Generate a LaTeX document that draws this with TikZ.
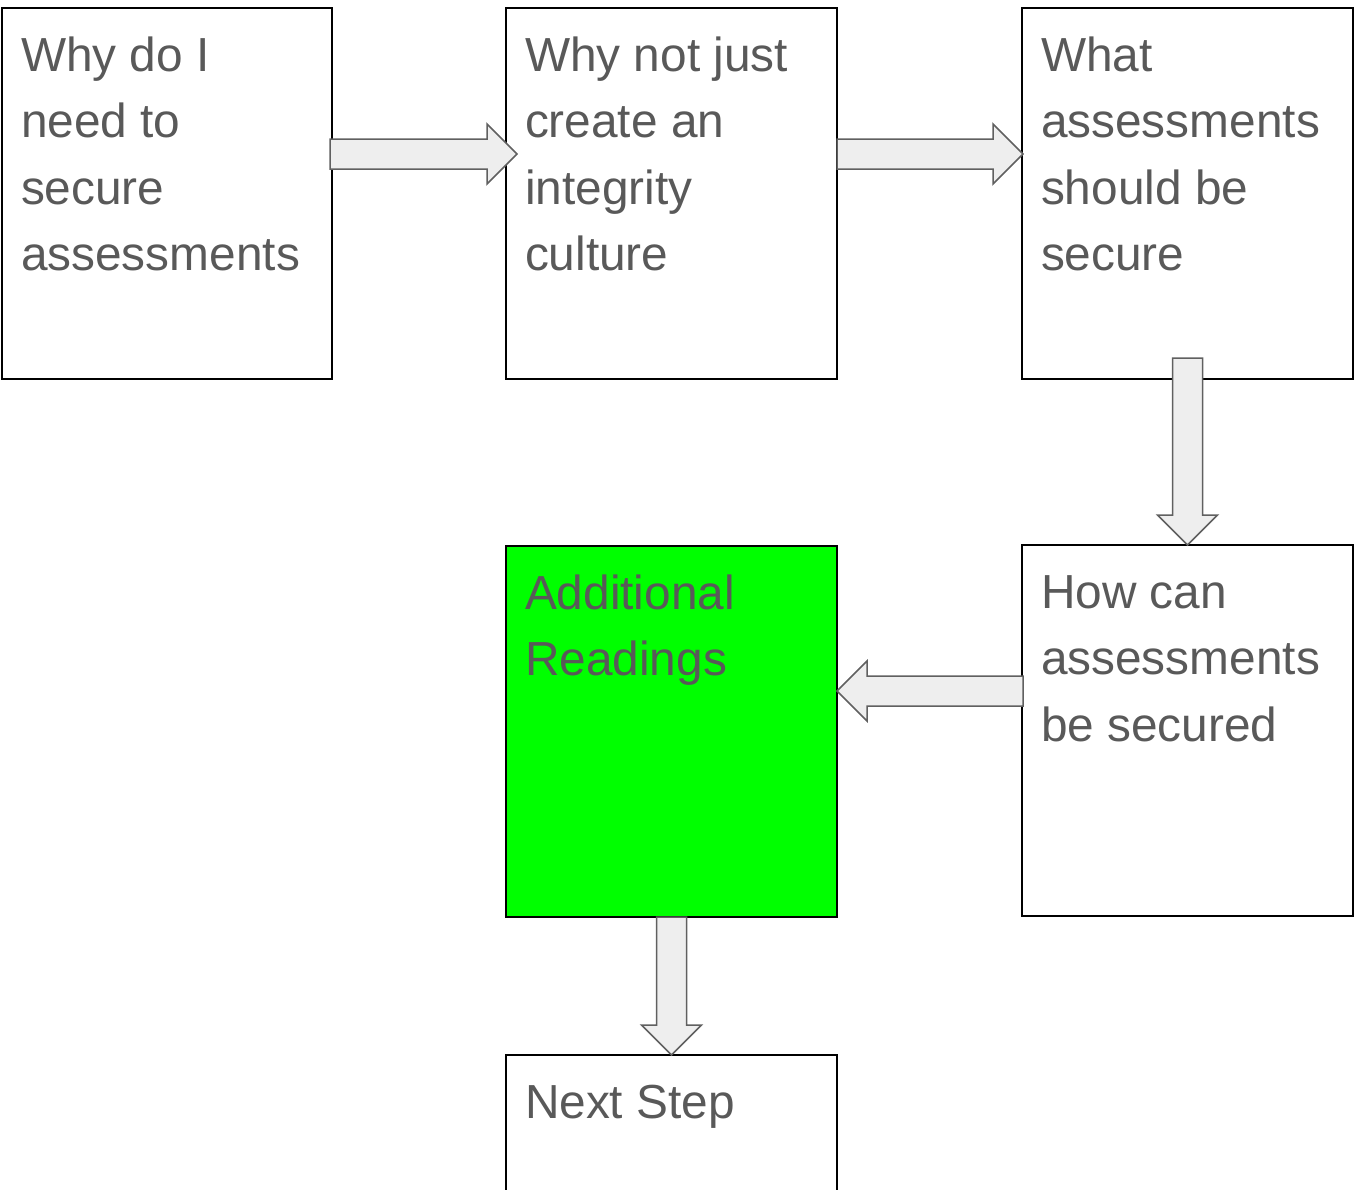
\documentclass[tikz,border=0pt]{standalone}
\usepackage{fontspec}
\setmainfont{Liberation Sans}
\usetikzlibrary{calc}
\definecolor{txtgray}{HTML}{595959}
\definecolor{arrfill}{HTML}{EEEEEE}
\definecolor{arrline}{HTML}{606060}
\definecolor{brightgreen}{HTML}{00FF00}
\tikzset{
  box/.style={draw=black, line width=1.5pt, inner sep=0pt, outer sep=0pt, anchor=north west},
  txt/.style={anchor=base west, align=left, inner sep=0pt, outer sep=0pt, text=txtgray,
    font=\fontsize{47.8}{66.5}\selectfont},
  barrow/.style={draw=arrline, fill=arrfill, line width=1.5pt, line join=miter}
}
\begin{document}
\begin{tikzpicture}[x=1pt,y=-1pt]
\useasboundingbox (0,0) rectangle (1354,1189);
% boxes
\node[box, minimum width=330pt, minimum height=371pt] (a) at (2,8) {};
\node[box, minimum width=331pt, minimum height=371pt] (b) at (506,8) {};
\node[box, minimum width=331pt, minimum height=371pt] (c) at (1022,8) {};
\node[box, minimum width=331pt, minimum height=371pt] (d) at (1022,545) {};
\node[box, fill=brightgreen, minimum width=331pt, minimum height=371pt] (e) at (506,546) {};
\node[box, minimum width=331pt, minimum height=371pt] (f) at (506,1055) {};
% texts (anchor is the baseline of the last line)
\node[txt] (ta) at ($(a.north west)+(19,262.5)$) {Why do I\\need to\\secure\\assessments};
\node[txt] (tb) at ($(b.north west)+(19,262.5)$) {Why not just\\create an\\integrity\\culture};
\node[txt] (tc) at ($(c.north west)+(19,262.5)$) {What\\assessments\\should be\\secure};
\node[txt] (td) at ($(d.north west)+(19,196)$) {How can\\assessments\\be secured};
\node[txt] (te) at ($(e.north west)+(19,129.5)$) {Additional\\Readings};
\node[txt] (tf) at ($(f.north west)+(19,63)$) {Next Step};
% connector end points
\coordinate (s1) at ($(a.north east)+(-2,146)$);
\coordinate (t1) at ($(b.north west)+(11,146)$);
\coordinate (s2) at ($(b.north east)+(0,146)$);
\coordinate (t2) at ($(c.north west)+(1,146)$);
\coordinate (s3) at ($(c.south)+(0,-21)$);
\coordinate (t3) at (d.north);
\coordinate (s4) at ($(d.north west)+(1,146)$);
\coordinate (t4) at ($(e.north east)+(0,145)$);
\coordinate (s5) at (e.south);
\coordinate (t5) at (f.north);
% right arrows
\foreach \s/\t in {s1/t1, s2/t2}{
  \draw[barrow] ($(\s)+(0,-15)$) -- ($(\t)+(-30,-15)$) -- ($(\t)+(-30,-30)$) -- (\t)
    -- ($(\t)+(-30,30)$) -- ($(\t)+(-30,15)$) -- ($(\s)+(0,15)$) -- cycle;
}
% down arrows
\foreach \s/\t in {s3/t3, s5/t5}{
  \draw[barrow] ($(\s)+(-15,0)$) -- ($(\t)+(-15,-30)$) -- ($(\t)+(-30,-30)$) -- (\t)
    -- ($(\t)+(30,-30)$) -- ($(\t)+(15,-30)$) -- ($(\s)+(15,0)$) -- cycle;
}
% left arrow
\draw[barrow] ($(s4)+(0,-15)$) -- ($(t4)+(30,-15)$) -- ($(t4)+(30,-30)$) -- (t4)
  -- ($(t4)+(30,30)$) -- ($(t4)+(30,15)$) -- ($(s4)+(0,15)$) -- cycle;
\end{tikzpicture}
\end{document}
